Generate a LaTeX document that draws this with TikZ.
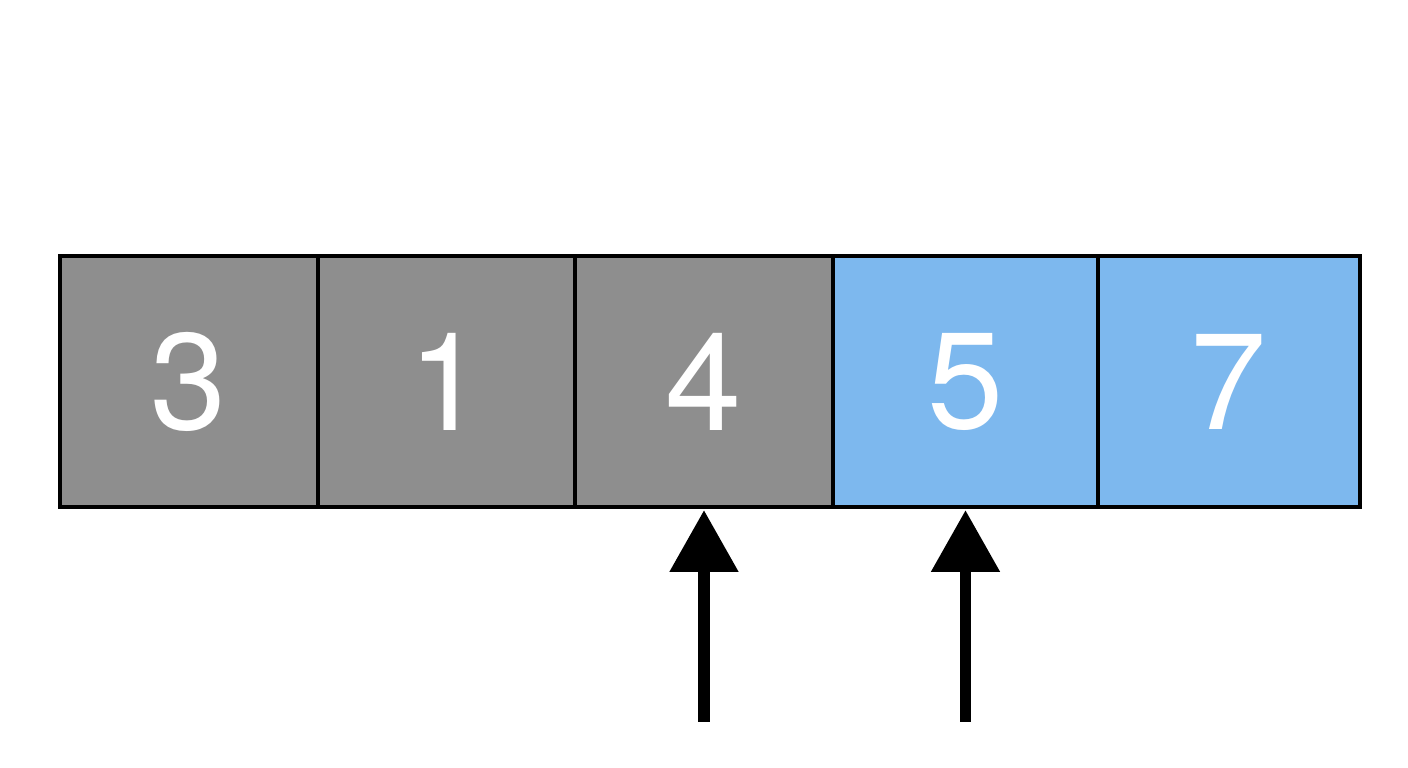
\documentclass[tikz,border=0pt]{standalone}
\usepackage{fontspec}
\setsansfont{TeX Gyre Heros}
\usetikzlibrary{arrows.meta, positioning}
\definecolor{cellgray}{HTML}{8E8E8E}
\definecolor{cellblue}{HTML}{7DB8EE}

\begin{document}
\begin{tikzpicture}[
    cell/.style={draw=black, line width=1pt, minimum height=2.51cm,
        inner sep=0pt, outer sep=0pt, text=white, font=\sffamily\fontsize{39}{46}\selectfont},
    pointer/.style={-{Triangle[width=0.66cm, length=0.62cm]}, line width=3.4pt, shorten >=0.03cm}
]
    \useasboundingbox (0,0) rectangle (14.08,7.68);

    % the array
    \coordinate (c0) at (0.6,3.865);
    \foreach \v/\col/\w [count=\i, evaluate=\i as \j using int(\i-1)] in
        {3/cellgray/2.58, 1/cellgray/2.57, 4/cellgray/2.58, 5/cellblue/2.65, 7/cellblue/2.62} {
        \node[cell, fill=\col, minimum width=\w cm, right=0pt of c\j] (c\i) {\v};
    }

    % the two pointers
    \foreach \i in {3, 4} {
        \coordinate (p\i) at ([yshift=-2.15cm]c\i.south);
        \draw[pointer] (p\i) -- (c\i.south);
    }
\end{tikzpicture}
\end{document}
